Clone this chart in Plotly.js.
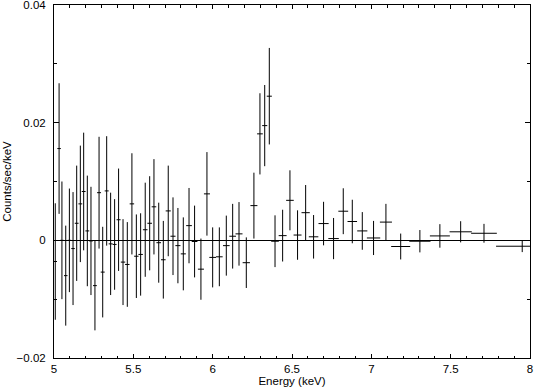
<!DOCTYPE html>
<html>
<head>
<meta charset="utf-8">
<script src="https://cdn.plot.ly/plotly-3.0.1.min.js"></script>
<style>html,body{margin:0;padding:0;background:#fff;}#chart{width:534px;height:390px;}</style>
</head>
<body>
<div id="chart"></div>
<script>
// Bin centre energies (keV)
const energy = [5.008,5.032,5.050,5.074,5.097,5.120,5.143,5.166,5.187,5.210,5.233,5.258,
  5.284,5.307,5.332,5.357,5.382,5.407,5.435,5.462,5.491,5.519,5.546,5.575,5.603,5.630,
  5.660,5.689,5.720,5.750,5.781,5.815,5.851,5.886,5.926,5.964,
  6.000,6.042,6.086,6.126,6.166,6.212,6.260,6.298,6.328,6.357,
  6.393,6.441,6.487,6.535,6.586,6.636,
  6.699,6.762,6.823,6.880,6.943,
  7.014,7.092,7.185,7.306,7.432,7.563,7.710,7.951];
// Bin half-widths (keV)
const energyHalfWidth = [0.011,0.011,0.011,0.011,0.011,0.011,0.012,0.012,0.012,0.012,0.012,0.012,
  0.0125,0.0125,0.0125,0.0125,0.0125,0.0125,0.014,0.014,0.014,0.014,0.014,0.0145,0.0145,0.0145,
  0.0145,0.0145,0.016,0.016,0.016,0.016,0.018,0.018,0.019,0.019,
  0.021,0.021,0.021,0.021,0.022,0.023,0.022,0.018,0.016,0.016,
  0.024,0.025,0.024,0.025,0.026,0.030,
  0.032,0.033,0.031,0.030,0.032,
  0.042,0.038,0.060,0.067,0.063,0.070,0.081,0.165];
// Count rate (counts/sec/keV)
const rate = [-0.0036,0.0156,0.0000,-0.0060,0.0000,-0.0014,0.0029,0.0062,0.0083,0.0016,-0.0001,-0.0077,
  0.0081,-0.0054,0.0084,-0.0006,-0.0007,0.0035,-0.0037,-0.0041,0.0062,-0.0027,-0.0024,0.0018,0.0029,0.0057,
  -0.0004,-0.0033,0.0050,0.0007,-0.0009,-0.0023,0.0025,-0.0002,-0.0049,0.0079,
  -0.0029,-0.0028,-0.0009,0.0007,0.0011,-0.0038,0.0059,0.0181,0.0195,0.0245,
  -0.00015,0.0008,0.0068,0.0009,0.0047,0.0006,
  0.00285,0.0003,0.00495,0.0032,0.0016,
  0.0004,0.0031,-0.00105,-0.00015,0.00075,0.00145,0.0012,-0.0010];
// 1-sigma errors (counts/sec/keV)
const rateErr = [0.0099,0.0111,0.0100,0.0085,0.0088,0.0096,0.0098,0.0099,0.0100,0.0094,0.0092,0.0076,
  0.0095,0.0077,0.0093,0.0087,0.0077,0.0087,0.0073,0.0072,0.0086,0.0071,0.0070,0.0080,0.0080,0.0081,
  0.0068,0.0066,0.0077,0.0066,0.0064,0.0062,0.0064,0.0061,0.0052,0.0071,
  0.0051,0.0050,0.0051,0.0055,0.0054,0.0043,0.0056,0.0069,0.0069,0.0082,
  0.0044,0.0044,0.0051,0.0042,0.0047,0.0037,
  0.0037,0.0035,0.0039,0.0037,0.0032,
  0.0029,0.0031,0.0022,0.0019,0.0020,0.0018,0.0016,0.0010];

const xTickVals = [5,5.5,6,6.5,7,7.5,8];
const yTickVals = [-0.02,0,0.02,0.04];
const yTickText = ['\u22120.02','0','0.02','0.04'];

const FONT = 'Liberation Sans, Arial, Helvetica, sans-serif';
const INK = '#000';

const trace = {
  x: energy, y: rate, type: 'scatter', mode: 'markers',
  marker: {size: 1, opacity: 0, color: INK},
  error_x: {type: 'data', array: energyHalfWidth, visible: true, color: INK, thickness: 1, width: 0},
  error_y: {type: 'data', array: rateErr, visible: true, color: INK, thickness: 1, width: 0},
  hoverinfo: 'skip'
};

const layout = {
  width: 534, height: 390,
  margin: {l: 54, r: 4, t: 5, b: 32, pad: 0},
  paper_bgcolor: '#fff', plot_bgcolor: '#fff',
  showlegend: false,
  font: {family: FONT, size: 11.5, color: INK},
  xaxis: {
    range: [5, 8.000001], tickvals: xTickVals, ticks: 'inside', ticklen: 4, tickwidth: 1, tickcolor: INK,
    showline: true, linecolor: INK, linewidth: 1, mirror: 'allticks',
    showgrid: false, zeroline: false, automargin: false, ticklabeloverflow: 'allow',
    minor: {dtick: 0.1, tick0: 5, ticks: 'inside', ticklen: 2.5, tickcolor: INK, tickwidth: 1, showgrid: false},
    tickfont: {family: FONT, size: 11.5, color: INK},
    title: {text: 'Energy (keV)', font: {family: FONT, size: 11.5, color: INK}, standoff: 3}
  },
  yaxis: {
    range: [-0.02, 0.0400001], tickvals: yTickVals, ticktext: yTickText, ticks: 'inside', ticklen: 5, tickwidth: 1, tickcolor: INK,
    showline: true, linecolor: INK, linewidth: 1, mirror: 'allticks',
    showgrid: false, zeroline: true, zerolinecolor: INK, zerolinewidth: 1, automargin: false, ticklabeloverflow: 'allow',
    minor: {dtick: 0.01, tick0: 0, ticks: 'inside', ticklen: 3, tickcolor: INK, tickwidth: 1, showgrid: false},
    ticklabelstandoff: 5,
    tickfont: {family: FONT, size: 11.5, color: INK},
    title: {text: 'Counts/sec/keV', font: {family: FONT, size: 11.5, color: INK}, standoff: 2}
  }
};

Plotly.newPlot('chart', [trace], layout, {displayModeBar: false, staticPlot: true});
</script>
</body>
</html>
